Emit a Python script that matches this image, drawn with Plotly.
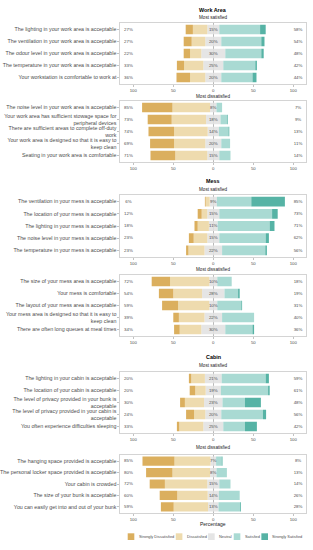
import plotly.graph_objects as go

W, H = 313, 550
FONT = "Liberation Sans, Arial, sans-serif"
GREY = "#4d4d4d"

# ---------------- data ----------------
categories = ["Strongly Dissatisfied", "Dissatisfied", "Neutral", "Satisfied", "Strongly Satisfied"]
colors = ["#DBAF5E", "#EEDBAE", "#E5E5E5", "#A9DAD3", "#56B3A5"]

wa_sat_items = ["The lighting in your work area is acceptable",
                "The ventilation in your work area is acceptable",
                "The odour level in your work area is acceptable",
                "The temperature in your work area is acceptable",
                "Your workstation is comfortable to work at"]
wa_sat_sd = [9, 10, 8, 9, 17]
wa_sat_d = [18, 17, 14, 24, 19]
wa_sat_n = [15, 20, 30, 25, 20]
wa_sat_s = [51, 50, 45, 40, 39]
wa_sat_ss = [7, 4, 3, 2, 5]

wa_dis_items = ["The noise level in your work area is acceptable",
                "Your work area has sufficient stowage space for<br>peripheral devices",
                "There are sufficient areas to complete off-duty<br>work",
                "Your work area is designed so that it is easy to<br>keep clean",
                "Seating in your work area is comfortable"]
wa_dis_sd = [38, 30, 32, 30, 31]
wa_dis_d = [47, 43, 42, 39, 40]
wa_dis_n = [8, 18, 14, 20, 15]
wa_dis_s = [7, 8, 12, 11, 14]
wa_dis_ss = [0, 1, 1, 0, 0]

me_sat_items = ["The ventilation in your mess is acceptable",
                "The location of your mess is acceptable",
                "The lighting in your mess is acceptable",
                "The noise level in your mess is acceptable",
                "The temperature in your mess is acceptable"]
me_sat_sd = [1, 5, 4, 6, 3]
me_sat_d = [5, 7, 14, 17, 20]
me_sat_n = [9, 15, 11, 15, 22]
me_sat_s = [43, 66, 65, 58, 54]
me_sat_ss = [42, 7, 6, 4, 2]

me_dis_items = ["The size of your mess area is acceptable",
                "Your mess is comfortable",
                "The layout of your mess area is acceptable",
                "Your mess area is designed so that it is easy to<br>keep clean",
                "There are often long queues at meal times"]
me_dis_sd = [23, 18, 20, 7, 7]
me_dis_d = [49, 36, 39, 32, 27]
me_dis_n = [10, 28, 10, 22, 30]
me_dis_s = [18, 17, 30, 40, 34]
me_dis_ss = [0, 2, 1, 0, 2]

ca_sat_items = ["The lighting in your cabin is acceptable",
                "The location of your cabin is acceptable",
                "The level of privacy provided in your bunk is<br>acceptable",
                "The level of privacy provided in your cabin is<br>acceptable",
                "You often experience difficulties sleeping"]
ca_sat_sd = [3, 7, 6, 10, 3]
ca_sat_d = [17, 13, 24, 14, 30]
ca_sat_n = [21, 19, 23, 20, 25]
ca_sat_s = [55, 59, 28, 52, 27]
ca_sat_ss = [4, 2, 20, 4, 15]

ca_dis_items = ["The hanging space provided is acceptable",
                "The personal locker space provided is acceptable",
                "Your cabin is crowded",
                "The size of your bunk is acceptable",
                "You can easily get into and out of your bunk"]
ca_dis_sd = [40, 33, 19, 22, 16]
ca_dis_d = [45, 47, 53, 38, 43]
ca_dis_n = [7, 8, 15, 14, 13]
ca_dis_s = [7, 13, 14, 26, 27]
ca_dis_ss = [1, 0, 0, 0, 1]

x_tickvals = [-100, -50, 0, 50, 100]
x_ticktext = ["100", "50", "0", "50", "100"]

panels = [
    (wa_sat_items, wa_sat_sd, wa_sat_d, wa_sat_n, wa_sat_s, wa_sat_ss),
    (wa_dis_items, wa_dis_sd, wa_dis_d, wa_dis_n, wa_dis_s, wa_dis_ss),
    (me_sat_items, me_sat_sd, me_sat_d, me_sat_n, me_sat_s, me_sat_ss),
    (me_dis_items, me_dis_sd, me_dis_d, me_dis_n, me_dis_s, me_dis_ss),
    (ca_sat_items, ca_sat_sd, ca_sat_d, ca_sat_n, ca_sat_s, ca_sat_ss),
    (ca_dis_items, ca_dis_sd, ca_dis_d, ca_dis_n, ca_dis_s, ca_dis_ss),
]

# ---------------- layout geometry (pixels) ----------------
X0, X1 = 118, 306
panel_px = [(23, 84), (101, 162), (195, 257), (275, 336), (372, 433), (455, 513)]


def fx(px):
    return px / W


def fy(py):
    return 1 - py / H


fig = go.Figure()
layout = dict(
    width=W, height=H, margin=dict(l=0, r=0, t=0, b=0),
    paper_bgcolor="white", plot_bgcolor="white",
    barmode="relative", bargap=0.2, showlegend=False,
    font=dict(family=FONT, size=5, color=GREY),
)

for i, (items, sd, d, n, s, ss) in enumerate(panels):
    xa = "x" if i == 0 else f"x{i + 1}"
    ya = "y" if i == 0 else f"y{i + 1}"
    half_n = [v / 2 for v in n]
    series = [
        ([-v for v in half_n], colors[2]),
        ([-v for v in d], colors[1]),
        ([-v for v in sd], colors[0]),
        (half_n, colors[2]),
        (s, colors[3]),
        (ss, colors[4]),
    ]
    for vals, col in series:
        fig.add_trace(go.Bar(
            x=vals, y=items, orientation="h", xaxis=xa, yaxis=ya,
            marker=dict(color=col, line=dict(width=0)), width=0.8,
            hoverinfo="skip",
        ))
    low = [a + b for a, b in zip(sd, d)]
    high = [a + b for a, b in zip(s, ss)]
    for xpos, labs in ((-106, low), (0, n), (106, high)):
        fig.add_trace(go.Scatter(
            x=[xpos] * len(items), y=items, mode="text",
            text=[f"{v}%" for v in labs], textposition="middle center",
            textfont=dict(size=4.4, color=GREY, family=FONT),
            xaxis=xa, yaxis=ya, hoverinfo="skip", cliponaxis=False,
        ))
    top, bot = panel_px[i]
    xkey = "xaxis" if i == 0 else f"xaxis{i + 1}"
    ykey = "yaxis" if i == 0 else f"yaxis{i + 1}"
    layout[xkey] = dict(
        domain=[fx(X0), fx(X1)], anchor=ya, range=[-116, 116],
        tickvals=x_tickvals, ticktext=x_ticktext,
        ticks="outside", ticklen=2, tickcolor="#999999", tickwidth=0.6,
        tickfont=dict(size=4.3, color=GREY, family=FONT),
        showgrid=False, zeroline=True, zerolinecolor="#8a8a8a", zerolinewidth=0.6,
        showline=True, mirror=True, linecolor="#d4d4d4", linewidth=1,
        fixedrange=True,
    )
    layout[ykey] = dict(
        domain=[fy(bot), fy(top)], anchor=xa, type="category",
        categoryorder="array", categoryarray=items,
        range=[4.54, -0.54],
        ticks="outside", ticklen=2, tickcolor="#999999", tickwidth=0.6,
        tickfont=dict(size=5.3, color=GREY, family=FONT),
        showgrid=False, zeroline=False,
        showline=True, mirror=True, linecolor="#d4d4d4", linewidth=1,
        fixedrange=True,
    )

cx = fx((X0 + X1) / 2)
annotations = []


def add_text(text, py, size, bold=False, color="#222222", x=cx, xanchor="center"):
    annotations.append(dict(
        text=f"<b>{text}</b>" if bold else text, x=x, y=fy(py),
        xref="paper", yref="paper", xanchor=xanchor, yanchor="middle",
        showarrow=False, font=dict(size=size, color=color, family=FONT),
    ))


add_text("Work Area", 9.5, 5.4, bold=True, color="black")
add_text("Most satisfied", 17.5, 4.6)
add_text("Most dissatisfied", 96.5, 4.6)
add_text("Mess", 181, 5.4, bold=True, color="black")
add_text("Most satisfied", 189.5, 4.6)
add_text("Most dissatisfied", 269.5, 4.6)
add_text("Cabin", 356.5, 5.4, bold=True, color="black")
add_text("Most satisfied", 365.5, 4.6)
add_text("Most dissatisfied", 447, 4.6)
add_text("Percentage", 523.5, 5.0, color="#222222")

# manual legend
legend_x = [125.3, 174, 206.7, 232.7, 260.7]
shapes = []
for lx, cat, col in zip(legend_x, categories, colors):
    shapes.append(dict(type="rect", xref="paper", yref="paper",
                       x0=fx(lx), x1=fx(lx + 6.7), y0=fy(540), y1=fy(533.3),
                       fillcolor=col, line=dict(width=0)))
    add_text(cat, 536.7, 3.9, color=GREY, x=fx(lx + 9), xanchor="left")

layout["annotations"] = annotations
layout["shapes"] = shapes
fig.update_layout(**layout)
fig.write_html(
    "out.html",
    config={"displayModeBar": False, "staticPlot": True},
    post_script="document.body.style.margin='0';document.body.style.padding='0';document.body.style.overflow='hidden';",
)
